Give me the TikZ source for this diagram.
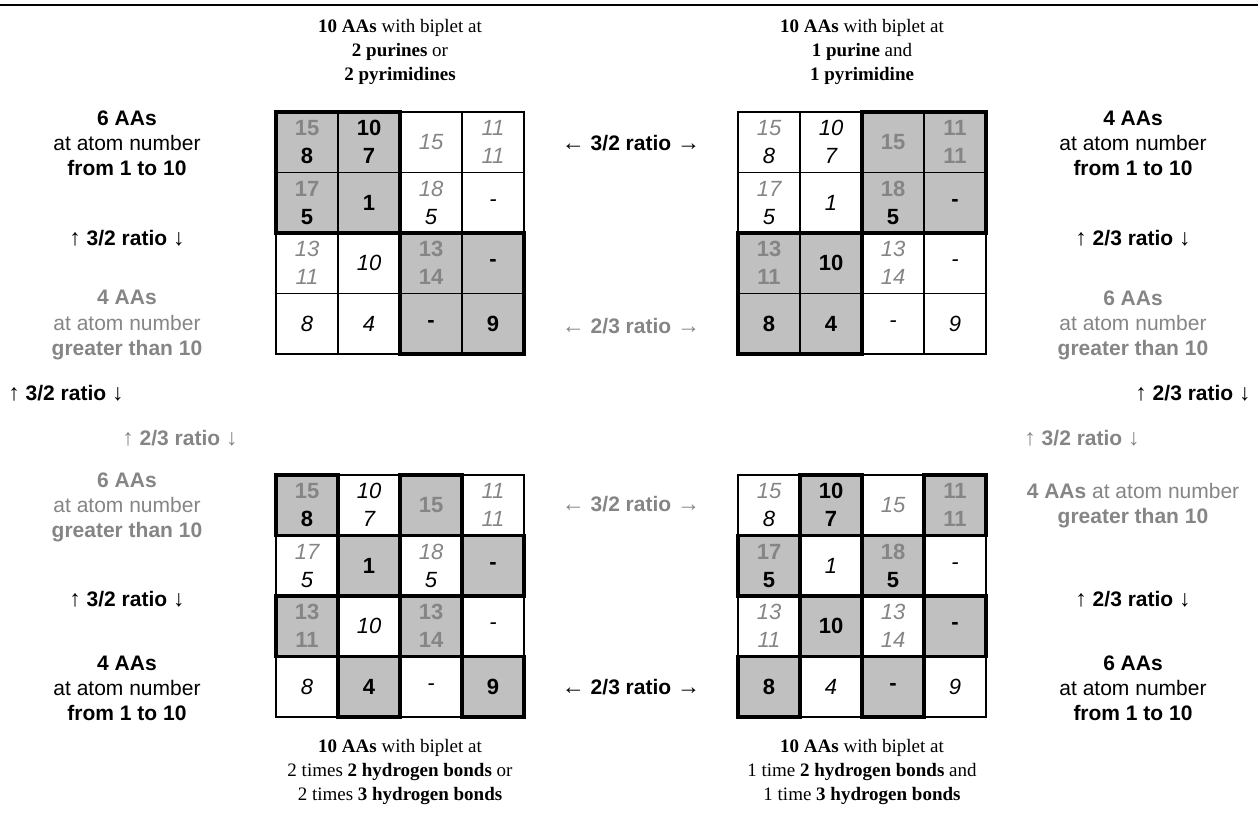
\documentclass[tikz,border=0pt]{standalone}
\usepackage{fontspec}
\setmainfont{Liberation Sans}
\newfontfamily\serifhead{Liberation Serif}
\usetikzlibrary{positioning}
\definecolor{shade}{HTML}{C0C0C0}
\definecolor{dim}{HTML}{858585}
\newcommand\sz{\fontsize{10.5}{12.5}\selectfont}
\newcommand\csz{\fontsize{11}{14}\selectfont}
\newcommand\dm[1]{\textcolor{dim}{#1}}
\newcommand\arU{{\serifhead\fontsize{11.5}{12.5}\selectfont ↑}}
\newcommand\arD{{\serifhead\fontsize{11.5}{12.5}\selectfont ↓}}
\newcommand\arL{{\serifhead\fontsize{11.5}{12.5}\selectfont ←}}
\newcommand\arR{{\serifhead\fontsize{11.5}{12.5}\selectfont →}}
\newcommand\cellgrid[4]{%
  \foreach \r/\c/\txt in {1/1/{\dm{15}\\8},1/2/{10\\7},1/3/{\dm{15}},1/4/{\dm{11}\\\dm{11}},
    2/1/{\dm{17}\\5},2/2/{1},2/3/{\dm{18}\\5},2/4/{-},
    3/1/{\dm{13}\\\dm{11}},3/2/{10},3/3/{\dm{13}\\\dm{14}},3/4/{-},
    4/1/{8},4/2/{4},4/3/{-},4/4/{9}}{%
    \pgfmathtruncatemacro\isgray{#4}%
    \ifnum\isgray=1 \tikzset{pick/.style={shadecell}}\else\tikzset{pick/.style={blankcell}}\fi
    \node[cell,pick] (#1-\r-\c) at ({#2+(\c-2.5)*62},{#3+(\r-2.5)*60.5}) {\txt};}}

\begin{document}
\begin{tikzpicture}[x=0.5pt,y=-0.5pt,
cell/.style={draw,line width=0.8pt,minimum width=31pt,minimum height=30.25pt,inner sep=0pt,outer sep=0pt,align=center},
shadecell/.style={fill=shade,font={\csz\bfseries}},
blankcell/.style={font={\csz\itshape}},
heavy/.style={line width=1.7pt},
side/.style={align=center,font=\sz,inner sep=1pt},
faint/.style={text=dim},
head/.style={align=center,font={\serifhead\fontsize{9.5}{12}\selectfont}}]
\useasboundingbox (0,0) rectangle (1258,818);
\draw[line width=1.2pt] (0,5) -- (1258,5);
\cellgrid{ga}{400}{233}{(\r<3)==(\c<3)}
\cellgrid{gb}{862}{233}{(\r<3)!=(\c<3)}
\cellgrid{gc}{400}{596}{mod(\r+\c,2)==0}
\cellgrid{gd}{862}{596}{mod(\r+\c,2)==1}
\draw[heavy] (ga-1-1.north west) rectangle (ga-2-2.south east) (ga-3-3.north west) rectangle (ga-4-4.south east);
\draw[heavy] (gb-1-3.north west) rectangle (gb-2-4.south east) (gb-3-1.north west) rectangle (gb-4-2.south east);
\foreach \r/\c in {1/1,1/3,2/2,2/4,3/1,3/3,4/2,4/4} \draw[heavy] (gc-\r-\c.north west) rectangle (gc-\r-\c.south east);
\foreach \r/\c in {1/2,1/4,2/1,2/3,3/2,3/4,4/1,4/3} \draw[heavy] (gd-\r-\c.north west) rectangle (gd-\r-\c.south east);
\node[head] (hpur) at (400,52) {\textbf{10 AAs} with biplet at\\\textbf{2 purines} or\\\textbf{2 pyrimidines}};
\node[head] (hmix) at (862,52) {\textbf{10 AAs} with biplet at\\\textbf{1 purine} and\\\textbf{1 pyrimidine}};
\node[head] (hsame) at (400,772) {\textbf{10 AAs} with biplet at\\2 times \textbf{2 hydrogen bonds} or\\2 times \textbf{3 hydrogen bonds}};
\node[head] (hdiff) at (862,772) {\textbf{10 AAs} with biplet at\\1 time \textbf{2 hydrogen bonds} and\\1 time \textbf{3 hydrogen bonds}};
\node[side] (lalow) at (127,143) {\textbf{6 AAs}\\at atom number\\\textbf{from 1 to 10}};
\node[side] (laratio) at (127,238) {\arU{} \textbf{3/2 ratio} \arD};
\node[side,faint] (lahigh) at (127,325) {\textbf{4 AAs}\\at atom number\\\textbf{greater than 10}};
\node[side,anchor=west] (louter) at (6,393) {\arU{} \textbf{3/2 ratio} \arD};
\node[side,faint] (linner) at (180,438) {\arU{} \textbf{2/3 ratio} \arD};
\node[side,faint] (lchigh) at (127,507) {\textbf{6 AAs}\\at atom number\\\textbf{greater than 10}};
\node[side] (lcratio) at (127,599) {\arU{} \textbf{3/2 ratio} \arD};
\node[side] (lclow) at (127,688) {\textbf{4 AAs}\\at atom number\\\textbf{from 1 to 10}};
\node[side] (rblow) at (1133,143) {\textbf{4 AAs}\\at atom number\\\textbf{from 1 to 10}};
\node[side] (rbratio) at (1133,238) {\arU{} \textbf{2/3 ratio} \arD};
\node[side,faint] (rbhigh) at (1133,325) {\textbf{6 AAs}\\at atom number\\\textbf{greater than 10}};
\node[side,anchor=east] (router) at (1253,393) {\arU{} \textbf{2/3 ratio} \arD};
\node[side,faint] (rinner) at (1082,438) {\arU{} \textbf{3/2 ratio} \arD};
\node[side,faint] (rdhigh) at (1133,506) {\textbf{4 AAs} at atom number\\\textbf{greater than 10}};
\node[side] (rdratio) at (1133,599) {\arU{} \textbf{2/3 ratio} \arD};
\node[side] (rdlow) at (1133,688) {\textbf{6 AAs}\\at atom number\\\textbf{from 1 to 10}};
\node[side] (mtop) at (631,143) {\arL{} \textbf{3/2 ratio} \arR};
\node[side,faint] (mtop2) at (631,326) {\arL{} \textbf{2/3 ratio} \arR};
\node[side,faint] (mbot) at (631,504) {\arL{} \textbf{3/2 ratio} \arR};
\node[side] (mbot2) at (631,687) {\arL{} \textbf{2/3 ratio} \arR};
\end{tikzpicture}
\end{document}
